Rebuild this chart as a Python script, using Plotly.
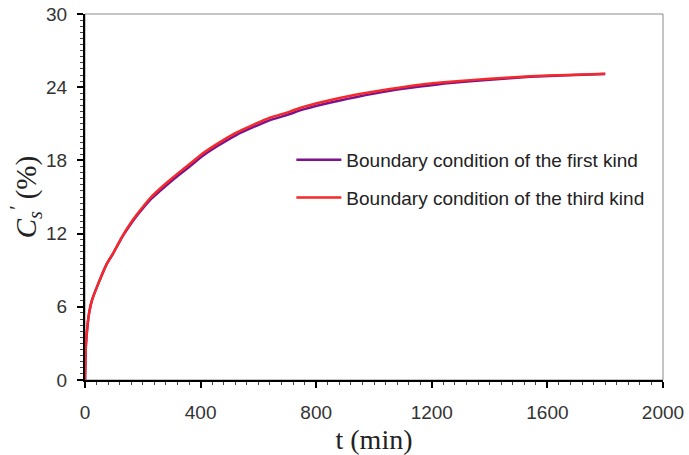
import plotly.graph_objects as go

# Time (min) and surface concentration (%) for the two boundary conditions
t_min = [0, 3, 8, 15, 25, 46, 75, 98, 127, 156, 184, 225, 260, 294, 330, 357,
         409, 460, 525, 580, 640, 709, 744, 824, 940, 1055, 1159, 1263, 1400,
         1540, 1670, 1800]
cs_third = [0, 2.8, 4.3, 5.6, 6.6, 7.9, 9.5, 10.4, 11.7, 12.8, 13.7, 14.9,
            15.7, 16.4, 17.1, 17.6, 18.6, 19.4, 20.3, 20.9, 21.5, 22.0, 22.3,
            22.8, 23.4, 23.85, 24.2, 24.45, 24.7, 24.9, 25.0, 25.1]
cs_first = [0, 2.8, 4.3, 5.6, 6.6, 7.9, 9.5, 10.4, 11.65, 12.7, 13.6, 14.75,
            15.5, 16.2, 16.9, 17.4, 18.4, 19.2, 20.1, 20.7, 21.3, 21.8, 22.1,
            22.6, 23.2, 23.7, 24.05, 24.35, 24.62, 24.85, 24.97, 25.08]

x_ticks = [0, 400, 800, 1200, 1600, 2000]
y_ticks = [0, 6, 12, 18, 24, 30]

names = ["Boundary condition of the first kind",
         "Boundary condition of the third kind"]
colors = ["#7d1190", "#f42a2a"]

fig = go.Figure()
for i, (ys, name, col) in enumerate(zip([cs_first, cs_third], names, colors)):
    fig.add_trace(go.Scatter(
        x=t_min, y=ys, mode="lines", name=name, legendgroup=f"g{i}",
        line=dict(color=col, width=2.5, shape="spline", smoothing=0.5),
    ))

# thin frame on the top and right sides
fig.add_shape(type="rect", xref="paper", yref="paper", x0=0, y0=0, x1=1, y1=1,
              line=dict(color="#8a8a8a", width=1), layer="below")

tick_font = dict(family="Liberation Sans, Arial", size=19, color="#333333")

fig.update_layout(
    width=689, height=455,
    margin=dict(l=85, r=26, t=14, b=75, autoexpand=False),
    paper_bgcolor="white", plot_bgcolor="white",
    showlegend=True,
    legend=dict(
        x=0.357, y=0.653, xanchor="left", yanchor="top",
        font=dict(family="Liberation Sans, Arial", size=19, color="#222222"),
        bgcolor="rgba(0,0,0,0)", traceorder="grouped", tracegroupgap=10,
        itemwidth=45,
    ),
    xaxis=dict(
        range=[0, 2000], tickvals=x_ticks, ticktext=[str(v) for v in x_ticks],
        automargin=False,
        showgrid=False, zeroline=False, showline=True, linecolor="black",
        linewidth=2, ticks="outside", ticklen=6, tickwidth=1.5,
        tickcolor="black", tickfont=tick_font, ticklabelstandoff=8,
        minor=dict(dtick=40, ticks="outside", ticklen=3, tickwidth=1,
                   tickcolor="#444444", showgrid=False),
        title=dict(text="t (min)", standoff=8,
                   font=dict(family="Liberation Serif, Times New Roman",
                             size=28, color="#222222")),
    ),
    yaxis=dict(
        range=[0, 30], tickvals=y_ticks, ticktext=[str(v) for v in y_ticks],
        automargin=False,
        showgrid=False, zeroline=False, showline=True, linecolor="black",
        linewidth=2, ticks="outside", ticklen=6, tickwidth=1.5,
        tickcolor="black", tickfont=tick_font, ticklabelstandoff=6,
        minor=dict(dtick=0.5, ticks="outside", ticklen=3, tickwidth=1,
                   tickcolor="#444444", showgrid=False),
        title=dict(text="<i>C<sub>s</sub><sup>′</sup></i> (%)", standoff=1,
                   font=dict(family="Liberation Serif, Times New Roman",
                             size=29, color="#222222")),
    ),
)

fig.write_html("out.html")
